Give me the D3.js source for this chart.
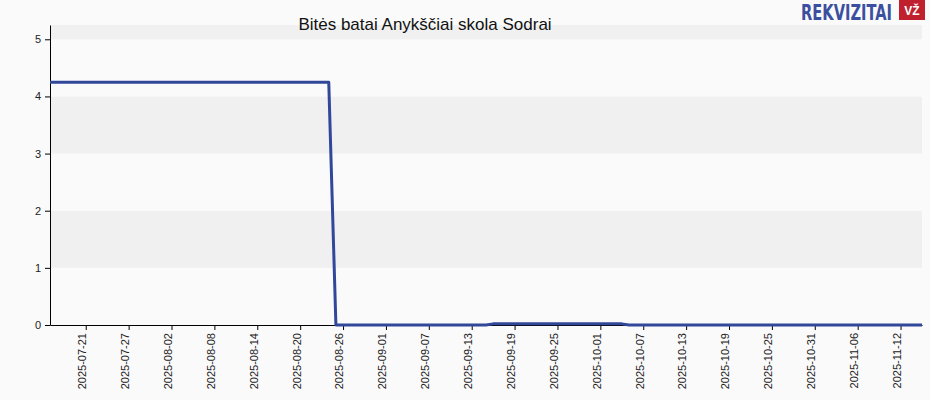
<!DOCTYPE html>
<html><head><meta charset="utf-8">
<script src="https://cdn.jsdelivr.net/npm/d3@7"></script>
<style>body{margin:0;background:#fafafa;}svg{display:block;font-family:Arial,"Liberation Sans",sans-serif;}</style>
</head><body><svg id="c" width="930" height="400"></svg>
<script>
const title = "Bitės batai Anykščiai skola Sodrai";
const dates = ["2025-07-16","2025-08-24","2025-08-25","2025-09-15","2025-09-16","2025-10-04","2025-10-05","2025-11-15"];
const values = [4.25,4.25,0,0,0.02,0.02,0,0];
const yTicks = [0,1,2,3,4,5];
const xTickStart = "2025-07-21", xTickEnd = "2025-11-12", xTickStepDays = 6;

const svg = d3.select("#c");
const W=930,H=400, m={l:50,r:8,t:25,b:75};
const parse = d3.utcParse("%Y-%m-%d");
const x = d3.scaleUtc().domain([parse("2025-07-16"), parse("2025-11-15")]).range([m.l, W-m.r]);
const y = d3.scaleLinear().domain([0,5.25]).range([H-m.b, m.t]);

// bands
const bandEdges = [0,1,2,3,4,5,5.25];
for(let i=0;i<bandEdges.length-1;i++){
  svg.append("rect").attr("x",m.l).attr("width",W-m.r-m.l)
    .attr("y",y(bandEdges[i+1])).attr("height",y(bandEdges[i])-y(bandEdges[i+1]))
    .attr("fill", i%2===0 ? "#fafafa" : "#f0f0f0");
}

const xTicks = d3.utcDay.range(parse(xTickStart), d3.utcDay.offset(parse(xTickEnd),1), xTickStepDays);
const fmt = d3.utcFormat("%Y-%m-%d");

const gx = svg.append("g").attr("transform",`translate(0,${H-m.b})`)
  .call(d3.axisBottom(x).tickValues(xTicks).tickFormat(fmt).tickSize(5).tickSizeOuter(0));
gx.select(".domain").attr("stroke","#000");
gx.selectAll("text").attr("transform","rotate(-90)").attr("text-anchor","end")
  .attr("x",-8).attr("y",-4).attr("dy","0.35em").attr("font-size","11px").attr("fill","#222").attr("font-family","Arial,'Liberation Sans',sans-serif");

const gy = svg.append("g").attr("transform",`translate(${m.l},0)`)
  .call(d3.axisLeft(y).tickValues(yTicks).tickFormat(d3.format("d")).tickSize(5).tickSizeOuter(0));
gy.selectAll("text").attr("font-size","11px").attr("fill","#222").attr("x",-9).attr("font-family","Arial,'Liberation Sans',sans-serif");
gy.select(".domain").attr("stroke","#000");

const line = d3.line().x((d,i)=>x(parse(dates[i]))).y(d=>y(d));
svg.append("path").datum(values).attr("d",line).attr("fill","none")
  .attr("stroke","#30479a").attr("stroke-width",3).attr("stroke-linejoin","round");

svg.append("text").attr("x",425).attr("y",30).attr("text-anchor","middle")
  .attr("font-size","17px").attr("fill","#111").text(title);

// logo
svg.append("text").attr("transform","translate(892,20) scale(0.74,1)").attr("text-anchor","end")
  .attr("font-size","22px").attr("font-weight","bold").attr("fill","#3a4fa0")
  .attr("font-family","'Liberation Sans Narrow','DejaVu Sans Condensed',Arial,sans-serif")
  .text("REKVIZITAI");
svg.append("rect").attr("x",899).attr("y",0).attr("width",26).attr("height",20).attr("fill","#c0202e");
svg.append("text").attr("x",912).attr("y",15).attr("text-anchor","middle").attr("font-size","12px")
  .attr("font-weight","bold").attr("fill","#fff").text("VŽ");
</script></body></html>
